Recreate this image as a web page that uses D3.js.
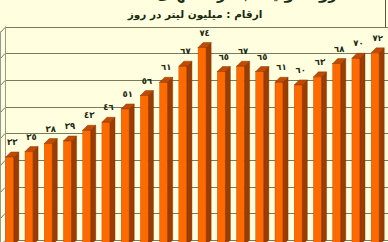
<!DOCTYPE html>
<html>
<head>
<meta charset="utf-8">
<script src="https://cdn.jsdelivr.net/npm/d3@7"></script>
<style>
  body { margin: 0; background: #ffffe0; }
  svg { display: block; }
</style>
</head>
<body>
<svg id="chart" width="388" height="242"></svg>
<script>
// chart data (values in million litres per day)
var categories = ["1", "2", "3", "4", "5", "6", "7", "8", "9", "10",
                  "11", "12", "13", "14", "15", "16", "17", "18", "19", "20"];
var values = [33, 35, 38, 39, 43, 46, 51, 56, 61, 67, 74, 65, 67, 65, 61, 60, 63, 68, 70, 72];
var gridTicks = [0, 10, 20, 30, 40, 50, 60, 70, 80];
var titleText = "روند تولید آب در سالهای مختلف";
var subtitleText = "ارقام : میلیون لیتر در روز";

var arabicDigits = "٠١٢٣٤٥٦٧٨٩";
function toArabic(n) {
	return String(n).replace(/[0-9]/g, function(d){ return arabicDigits[+d]; });
}

var svg = d3.select("#chart");
var W = 388;
var dx = 5, dy = 5;   // 3d depth

var yBack = d3.scaleLinear().domain([0, 80]).range([240, 26.5]);
function yFront(v) { return yBack(v) + dy; }

var x = d3.scaleBand()
	.domain(categories)
	.range([0, 385])
	.paddingInner(0.58)
	.paddingOuter(0.3);
var bw = x.bandwidth();

svg.append("rect")
	.attr("width", W).attr("height", 242)
	.attr("fill", "#ffffe0");

// left side wall
svg.append("rect")
	.attr("x", 0).attr("y", yBack(80))
	.attr("width", dx).attr("height", 242)
	.attr("fill", "#fdfde4");

// grid lines on back wall + side wall
var grid = svg.append("g").attr("stroke", "#7a7a5c").attr("stroke-width", 1).attr("fill", "none");
gridTicks.forEach(function(t){
	var yy = Math.round(yBack(t)) + 0.5;
	grid.append("line")
		.attr("x1", dx).attr("x2", W)
		.attr("y1", yy).attr("y2", yy);
	grid.append("line")
		.attr("x1", 0.5).attr("x2", dx)
		.attr("y1", yy + dy).attr("y2", yy);
});
grid.append("line")
	.attr("x1", 0.5).attr("x2", 0.5)
	.attr("y1", yBack(80) + dy).attr("y2", 242)
	.attr("stroke", "#9a9a80");
grid.append("line")
	.attr("x1", dx + 0.5).attr("x2", dx + 0.5)
	.attr("y1", yBack(80)).attr("y2", 242)
	.attr("stroke", "#9a9a80");

// bars
var bars = svg.append("g").selectAll("g")
	.data(values)
	.enter().append("g");

bars.append("rect")
	.attr("x", function(d, i){ return x(categories[i]); })
	.attr("y", function(d){ return yFront(d); })
	.attr("width", bw)
	.attr("height", function(d){ return yFront(0) - yFront(d); })
	.attr("fill", "#ff6a00")
	.attr("stroke", "#b24400")
	.attr("stroke-width", 0.4);

bars.append("path")
	.attr("d", function(d, i){
		var x0 = x(categories[i]) + bw, yt = yFront(d), yb = yFront(0);
		return "M" + x0 + "," + yt + "L" + (x0 + dx) + "," + (yt - dy) +
			"L" + (x0 + dx) + "," + (yb - dy) + "L" + x0 + "," + yb + "Z";
	})
	.attr("fill", "#9c3c00")
	.attr("stroke", "#6e2a00")
	.attr("stroke-width", 0.4);

bars.append("path")
	.attr("d", function(d, i){
		var x0 = x(categories[i]), yt = yFront(d);
		return "M" + x0 + "," + yt + "L" + (x0 + dx) + "," + (yt - dy) +
			"L" + (x0 + bw + dx) + "," + (yt - dy) + "L" + (x0 + bw) + "," + yt + "Z";
	})
	.attr("fill", "#c44a00")
	.attr("stroke", "#6e2a00")
	.attr("stroke-width", 0.4);

// value labels
svg.append("g").selectAll("text")
	.data(values)
	.enter().append("text")
	.attr("x", function(d, i){ return x(categories[i]) + (bw + dx) / 2; })
	.attr("y", function(d){ return yFront(d) - 12; })
	.attr("text-anchor", "middle")
	.attr("font-family", "DejaVu Sans")
	.attr("font-weight", "bold")
	.attr("font-size", 8.5)
	.attr("fill", "#1e2a14")
	.text(function(d){ return toArabic(d); });

// titles (main title sits mostly above the visible area)
svg.append("text")
	.attr("x", 337).attr("y", -1.5)
	.attr("text-anchor", "end")
	.attr("font-family", "DejaVu Sans")
	.attr("font-weight", "bold")
	.attr("font-size", 15)
	.attr("fill", "#1a3010")
	.text(titleText);

svg.append("text")
	.attr("x", 195).attr("y", 18)
	.attr("text-anchor", "middle")
	.attr("font-family", "DejaVu Sans")
	.attr("font-weight", "bold")
	.attr("font-size", 10.5)
	.attr("fill", "#1a2a10")
	.text(subtitleText);

svg.append("line")
	.attr("x1", 385.5).attr("x2", 385.5)
	.attr("y1", 0).attr("y2", 27)
	.attr("stroke", "#555544");
</script>
</body>
</html>
